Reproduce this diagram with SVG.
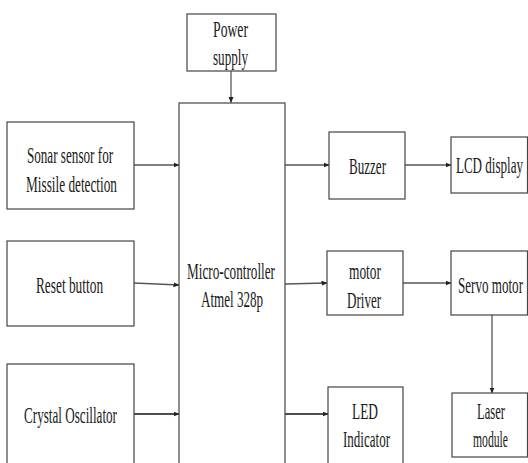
<svg xmlns="http://www.w3.org/2000/svg" width="528" height="463" viewBox="0 0 528 463">
<style>
.box{fill:#fff;stroke:#444;stroke-width:1.2}
.t{font-family:"Liberation Serif","Times New Roman",serif;font-size:24px;fill:#1a1a1a;text-anchor:middle}
.c{stroke:#555;stroke-width:1.3;fill:none;marker-end:url(#ah)}
.k{stroke:#111}
</style>
<defs>
<marker id="ah" markerWidth="6" markerHeight="6" refX="5.5" refY="3" orient="auto" markerUnits="userSpaceOnUse">
<path d="M0,0.5 L6,3 L0,5.5 Z" fill="#222"/>
</marker>
</defs>
<rect width="528" height="463" fill="#fff"/>
<g id="connectors">
<line class="c" x1="231" y1="71" x2="231" y2="102.5"/>
<line class="c" x1="134" y1="165" x2="179" y2="165"/>
<line class="c" x1="134" y1="283" x2="179" y2="285"/>
<line class="c k" x1="134" y1="414" x2="179" y2="414"/>
<line class="c" x1="285" y1="165" x2="329" y2="165"/>
<line class="c" x1="405" y1="165" x2="451" y2="165"/>
<line class="c" x1="285" y1="284" x2="327" y2="283"/>
<line class="c" x1="403" y1="283" x2="451" y2="283"/>
<line class="c k" x1="285" y1="414" x2="328" y2="414"/>
<line class="c" x1="492" y1="315" x2="492" y2="393"/>
</g>
<g id="power">
<rect class="box" x="187" y="14" width="89" height="57"/>
<text class="t" transform="translate(230.5,37) scale(0.56,1)" textLength="62.5" lengthAdjust="spacingAndGlyphs">Power</text>
<text class="t" transform="translate(230.5,65) scale(0.56,1)" textLength="62.5" lengthAdjust="spacingAndGlyphs">supply</text>
</g>
<g id="micro">
<rect class="box" x="179" y="103" width="106" height="370"/>
<text class="t" transform="translate(231,279) scale(0.56,1)" textLength="157" lengthAdjust="spacingAndGlyphs">Micro-controller</text>
<text class="t" transform="translate(232,307) scale(0.56,1)" textLength="111" lengthAdjust="spacingAndGlyphs">Atmel 328p</text>
</g>
<g id="sonar">
<rect class="box" x="7" y="122" width="127" height="87"/>
<text class="t" transform="translate(70,163) scale(0.56,1)" textLength="154" lengthAdjust="spacingAndGlyphs">Sonar sensor for</text>
<text class="t" transform="translate(71.5,192) scale(0.56,1)" textLength="162.5" lengthAdjust="spacingAndGlyphs">Missile detection</text>
</g>
<g id="reset">
<rect class="box" x="7" y="241" width="127" height="85"/>
<text class="t" transform="translate(69.5,293) scale(0.56,1)" textLength="120" lengthAdjust="spacingAndGlyphs">Reset button</text>
</g>
<g id="crystal">
<rect class="box" x="7" y="364" width="127" height="110"/>
<text class="t" transform="translate(70.5,423) scale(0.56,1)" textLength="166" lengthAdjust="spacingAndGlyphs">Crystal Oscillator</text>
</g>
<g id="buzzer">
<rect class="box" x="329" y="132" width="76" height="67"/>
<text class="t" transform="translate(367.5,174) scale(0.56,1)" textLength="66" lengthAdjust="spacingAndGlyphs">Buzzer</text>
</g>
<g id="lcd">
<rect class="box" x="451" y="137" width="76.5" height="56"/>
<text class="t" transform="translate(489.5,173) scale(0.56,1)" textLength="120" lengthAdjust="spacingAndGlyphs">LCD display</text>
</g>
<g id="driver">
<rect class="box" x="327" y="251" width="76" height="64"/>
<text class="t" transform="translate(365,279) scale(0.56,1)" textLength="57" lengthAdjust="spacingAndGlyphs">motor</text>
<text class="t" transform="translate(364,308) scale(0.56,1)" textLength="61" lengthAdjust="spacingAndGlyphs">Driver</text>
</g>
<g id="servo">
<rect class="box" x="451" y="251" width="76.5" height="64"/>
<text class="t" transform="translate(490.5,293) scale(0.56,1)" textLength="116" lengthAdjust="spacingAndGlyphs">Servo motor</text>
</g>
<g id="led">
<rect class="box" x="328" y="387" width="75" height="90"/>
<text class="t" transform="translate(365,419) scale(0.56,1)" textLength="46.5" lengthAdjust="spacingAndGlyphs">LED</text>
<text class="t" transform="translate(366.5,447) scale(0.56,1)" textLength="84" lengthAdjust="spacingAndGlyphs">Indicator</text>
</g>
<g id="laser">
<rect class="box" x="452" y="393" width="75.5" height="64"/>
<text class="t" transform="translate(491,419) scale(0.56,1)" textLength="50" lengthAdjust="spacingAndGlyphs">Laser</text>
<text class="t" transform="translate(490.5,447) scale(0.56,1)" textLength="62.5" lengthAdjust="spacingAndGlyphs">module</text>
</g>
</svg>
